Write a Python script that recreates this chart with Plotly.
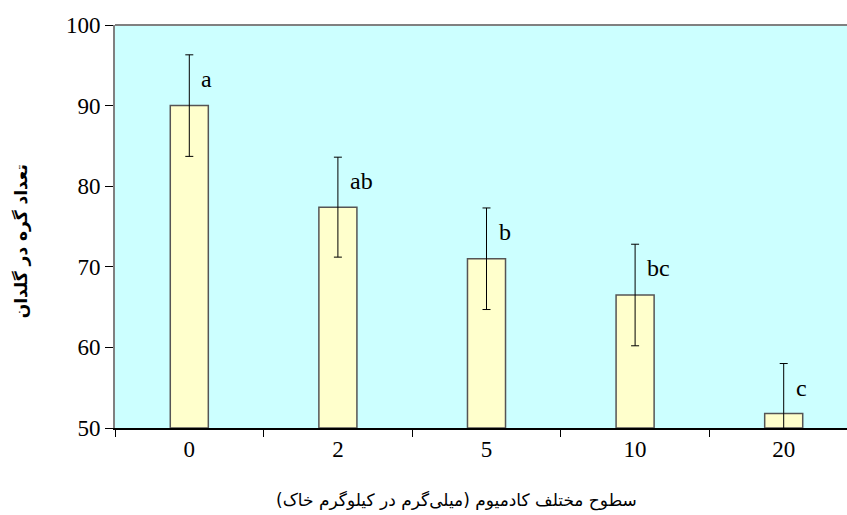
import plotly.graph_objects as go

categories = ["0", "2", "5", "10", "20"]
means = [90.0, 77.4, 71.0, 66.5, 51.8]
errors = [6.3, 6.2, 6.3, 6.3, 6.2]
letters = ["a", "ab", "b", "bc", "c"]
y_ticks = [50, 60, 70, 80, 90, 100]

x_title = "سطوح مختلف کادمیوم (میلی‌گرم در کیلوگرم خاک)"
y_title = "تعداد گره در گلدان"

serif = "Liberation Serif"
arabic = "DejaVu Sans"

fig = go.Figure()
fig.add_trace(go.Bar(
    x=categories, y=[m - 50 for m in means], base=50,
    width=0.256,
    marker=dict(color="#FFFFCC", line=dict(color="#555555", width=1.5)),
    error_y=dict(type="data", array=errors, color="black", thickness=1, width=4),
    hoverinfo="skip",
))

for i, (m, e, t) in enumerate(zip(means, errors, letters)):
    fig.add_annotation(x=i, y=m + e - 3, text=t, showarrow=False,
                       xanchor="left", yanchor="middle", xshift=10,
                       font=dict(family=serif, size=24, color="black"))

fig.add_annotation(xref="paper", yref="paper", x=0.467, y=-0.181,
                   text=x_title, showarrow=False, xanchor="center", yanchor="middle",
                   font=dict(family=arabic, size=17, color="black"))
fig.add_annotation(xref="paper", yref="paper", x=-0.128, y=0.464,
                   text="<b>" + y_title + "</b>", showarrow=False, textangle=-90,
                   xanchor="center", yanchor="middle",
                   font=dict(family=arabic, size=17, color="black"))

fig.add_shape(type="line", xref="paper", yref="paper", x0=0, x1=1, y0=1, y1=1,
              line=dict(color="#808080", width=2))

fig.update_layout(
    width=847, height=515,
    margin=dict(l=115, r=0, t=25, b=87),
    paper_bgcolor="white", plot_bgcolor="#CCFFFF",
    showlegend=False,
    font=dict(family=serif, color="black"),
    xaxis=dict(type="category", range=[-0.5, 4.426], tickson="boundaries",
               ticks="outside", ticklen=7, tickcolor="black", tickwidth=1,
               showline=True, linecolor="black", linewidth=1.5,
               showgrid=False, zeroline=False,
               tickfont=dict(family=serif, size=23, color="black")),
    yaxis=dict(range=[50, 100], tickvals=y_ticks, ticks="outside", ticklen=8,
               tickcolor="black", tickwidth=1,
               showline=True, linecolor="#808080", linewidth=2,
               showgrid=False, zeroline=False,
               tickfont=dict(family=serif, size=23, color="black")),
)

fig.write_html("out.html", config={"displayModeBar": False},
               post_script="document.body.style.margin='0';document.body.style.overflow='hidden';")
